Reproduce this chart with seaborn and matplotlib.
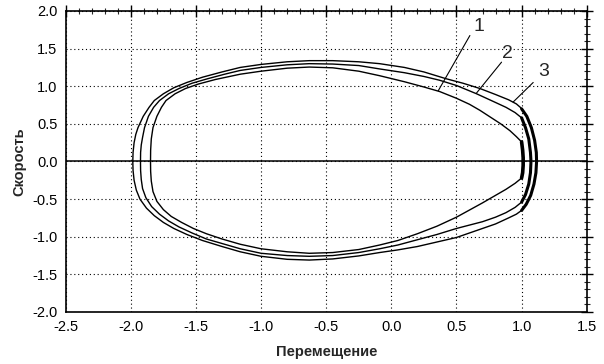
import numpy as np
import pandas as pd
import matplotlib
matplotlib.use("Agg")
import matplotlib.pyplot as plt
import seaborn as sns
from matplotlib.ticker import MultipleLocator, FormatStrFormatter

# ---------------- data ----------------
# curve 3 (outer): lower branch right->left, then upper branch left->right
c3_x = [1.00, 0.96, 0.90, 0.80, 0.70, 0.60, 0.50, 0.35, 0.20, 0.05, -0.09, -0.25, -0.45, -0.63, -0.80, -1.00, -1.16, -1.30,
        -1.45, -1.57, -1.67, -1.75, -1.82, -1.88, -1.93, -1.958, -1.975, -1.983, -1.985,
        -1.983, -1.975, -1.962, -1.945, -1.905, -1.86, -1.82, -1.75, -1.67, -1.57, -1.45, -1.30, -1.16, -1.00, -0.80,
        -0.63, -0.45, -0.25, -0.09, 0.10, 0.25, 0.42, 0.55, 0.68, 0.80, 0.90, 0.96, 0.99, 1.00]
c3_y = [-0.65, -0.70, -0.75, -0.83, -0.89, -0.95, -1.01, -1.07, -1.13, -1.175, -1.21, -1.255, -1.295, -1.31, -1.30, -1.26, -1.20, -1.13,
        -1.05, -0.97, -0.89, -0.81, -0.72, -0.62, -0.50, -0.38, -0.25, -0.12, 0.00,
        0.12, 0.25, 0.36, 0.45, 0.60, 0.72, 0.81, 0.90, 0.98, 1.05, 1.12, 1.19, 1.25, 1.29, 1.325,
        1.34, 1.34, 1.325, 1.30, 1.25, 1.19, 1.10, 1.04, 0.97, 0.89, 0.82, 0.765, 0.72, 0.70]

# curve 2 (middle)
c2_x = [1.00, 0.95, 0.88, 0.80, 0.70, 0.60, 0.50, 0.35, 0.20, 0.05, -0.09, -0.25, -0.45, -0.63, -0.80, -1.00, -1.16, -1.30,
        -1.42, -1.53, -1.63, -1.71, -1.78, -1.84, -1.885, -1.91, -1.92, -1.925, -1.926,
        -1.925, -1.92, -1.91, -1.895, -1.865, -1.825, -1.78, -1.71, -1.63, -1.53, -1.41, -1.28, -1.16, -1.00, -0.80,
        -0.63, -0.45, -0.25, -0.09, 0.10, 0.25, 0.37, 0.50, 0.654, 0.78, 0.88, 0.95, 1.00]
c2_y = [-0.54, -0.61, -0.68, -0.74, -0.80, -0.845, -0.89, -0.97, -1.04, -1.11, -1.16, -1.21, -1.25, -1.26, -1.25, -1.22, -1.16, -1.09,
        -1.03, -0.95, -0.87, -0.79, -0.70, -0.60, -0.48, -0.36, -0.24, -0.12, 0.00,
        0.12, 0.22, 0.32, 0.45, 0.60, 0.72, 0.81, 0.90, 0.97, 1.04, 1.10, 1.16, 1.21, 1.25, 1.285,
        1.30, 1.295, 1.275, 1.23, 1.18, 1.13, 1.08, 1.01, 0.90, 0.80, 0.72, 0.65, 0.58]

# curve 1 (inner)
c1_x = [1.00, 0.95, 0.88, 0.80, 0.70, 0.60, 0.50, 0.35, 0.20, 0.05, -0.09, -0.25, -0.45, -0.63, -0.80, -1.00, -1.16, -1.30,
        -1.42, -1.52, -1.61, -1.69, -1.75, -1.80, -1.83, -1.843, -1.848, -1.849,
        -1.848, -1.843, -1.83, -1.80, -1.765, -1.73, -1.66, -1.58, -1.48, -1.35, -1.16, -1.00, -0.80,
        -0.63, -0.45, -0.25, -0.09, 0.10, 0.25, 0.37, 0.50, 0.60, 0.68, 0.76, 0.84, 0.91, 0.96, 1.00]
c1_y = [-0.22, -0.29, -0.37, -0.45, -0.55, -0.645, -0.74, -0.86, -0.96, -1.05, -1.11, -1.17, -1.21, -1.22, -1.20, -1.16, -1.10, -1.03,
        -0.96, -0.89, -0.81, -0.73, -0.64, -0.53, -0.40, -0.26, -0.13, 0.00,
        0.15, 0.30, 0.45, 0.60, 0.72, 0.81, 0.90, 0.97, 1.03, 1.09, 1.16, 1.20, 1.24,
        1.255, 1.245, 1.20, 1.14, 1.06, 0.99, 0.93, 0.84, 0.76, 0.68, 0.59, 0.50, 0.41, 0.33, 0.26]

# bold arcs beyond the stop (x > 1)
a3_x = [1.00, 1.04, 1.075, 1.10, 1.113, 1.115, 1.11, 1.095, 1.07, 1.035, 1.00]
a3_y = [0.70, 0.60, 0.45, 0.28, 0.12, 0.00, -0.15, -0.30, -0.45, -0.57, -0.65]
a2_x = [1.00, 1.03, 1.055, 1.068, 1.072, 1.068, 1.055, 1.03, 1.00]
a2_y = [0.58, 0.45, 0.30, 0.12, 0.00, -0.15, -0.30, -0.44, -0.54]
a1_x = [1.00, 1.008, 1.012, 1.012, 1.008, 1.00]
a1_y = [0.26, 0.15, 0.05, -0.05, -0.15, -0.22]

# curve labels with leader lines
labels = ["1", "2", "3"]
label_x = [0.67, 0.89, 1.166]
label_y = [1.80, 1.43, 1.19]
lead_x0 = [0.603, 0.846, 1.089]
lead_y0 = [1.674, 1.32, 1.05]
lead_x1 = [0.36, 0.654, 0.935]
lead_y1 = [0.94, 0.91, 0.79]

x_title = "Перемещение"
y_title = "Скорость"

# ---------------- figure ----------------
sns.set_style("white")
plt.rcParams['font.family'] = ['Liberation Sans', 'DejaVu Sans']

fig = plt.figure(figsize=(6.04, 3.64), dpi=100)
ax = fig.add_axes([0.1088, 0.1429, 0.8626, 0.8269])

for xs, ys in [(c1_x, c1_y), (c2_x, c2_y), (c3_x, c3_y)]:
    df = pd.DataFrame({"x": xs, "y": ys})
    sns.lineplot(data=df, x="x", y="y", sort=False, estimator=None, color="black", lw=1.0, ax=ax)

for xs, ys, lw in [(a1_x, a1_y, 2.6), (a2_x, a2_y, 2.2), (a3_x, a3_y, 2.2)]:
    df = pd.DataFrame({"x": xs, "y": ys})
    sns.lineplot(data=df, x="x", y="y", sort=False, estimator=None, color="black", lw=lw, ax=ax)

ax.axhline(0, color="black", lw=1.1, zorder=1)

for i, lab in enumerate(labels):
    ax.plot([lead_x0[i], lead_x1[i]], [lead_y0[i], lead_y1[i]], color="black", lw=0.8)
    ax.text(label_x[i], label_y[i], lab, fontsize=14, ha="center", va="center")

ax.set_xlim(-2.5, 1.5)
ax.set_ylim(-2.0, 2.0)
ax.xaxis.set_major_locator(MultipleLocator(0.5))
ax.yaxis.set_major_locator(MultipleLocator(0.5))
ax.xaxis.set_minor_locator(MultipleLocator(0.1))
ax.yaxis.set_minor_locator(MultipleLocator(0.1))
ax.xaxis.set_major_formatter(FormatStrFormatter("%.1f"))
ax.yaxis.set_major_formatter(FormatStrFormatter("%.1f"))

ax.grid(True, which="major", color="black", linestyle=(0, (1, 2.5)), lw=0.8)
ax.tick_params(which="major", direction="inout", length=8, width=1, labelsize=10.5,
               top=True, right=True, labeltop=False, labelright=False, pad=2, colors="black")
ax.tick_params(which="minor", direction="inout", length=5, width=0.8, top=True, right=True)
for sp in ax.spines.values():
    sp.set_color("black")
    sp.set_linewidth(1.2)
    sp.set_visible(True)

ax.set_xlabel(x_title, fontsize=10.5, fontweight="bold",
              family=['Liberation Sans Narrow', 'Liberation Sans', 'DejaVu Sans'], labelpad=8)
ax.set_ylabel(y_title, fontsize=10.5, fontweight="bold",
              family=['Liberation Sans Narrow', 'Liberation Sans', 'DejaVu Sans'], labelpad=4)

fig.savefig("out.png", dpi=100, facecolor="white")
